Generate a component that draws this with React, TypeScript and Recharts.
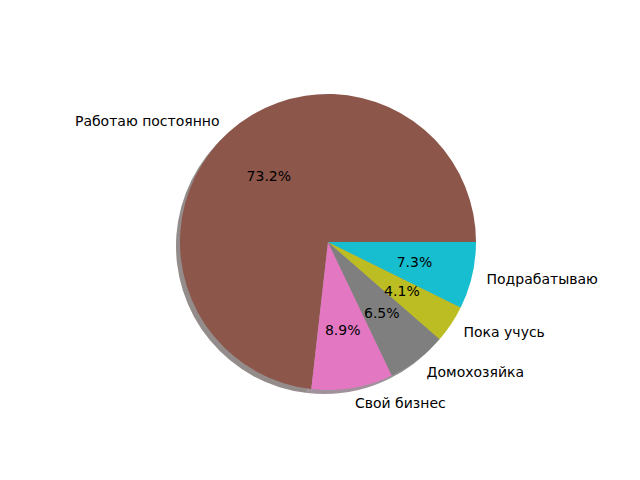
import React from "react";
import { PieChart, Pie, Cell } from "recharts";

const labels = ["Работаю постоянно", "Свой бизнес", "Домохозяйка", "Пока учусь", "Подрабатываю"];
const shares = [73.2, 8.9, 6.5, 4.1, 7.3];
const colors = ["#8c564b", "#e377c2", "#7f7f7f", "#bcbd22", "#17becf"];
const shadowColors = ["#2a1a16", "#44243a", "#262626", "#38380a", "#07393e"];

const data = labels.map((name, i) => ({ name, value: shares[i] }));

const RADIAN = Math.PI / 180;
const FONT = "DejaVu Sans, sans-serif";

const renderLabel = (props: any) => {
  const { cx, cy, midAngle, outerRadius, name, value } = props;
  const cos = Math.cos(-midAngle * RADIAN);
  const sin = Math.sin(-midAngle * RADIAN);
  const lx = cx + outerRadius * 1.1 * cos;
  const ly = cy + outerRadius * 1.1 * sin;
  const px = cx + outerRadius * 0.6 * cos;
  const py = cy + outerRadius * 0.6 * sin;
  return (
    <g>
      <text
        x={lx}
        y={ly}
        textAnchor={cos >= 0 ? "start" : "end"}
        dominantBaseline="central"
        fill="#000"
        fontSize={14}
        fontFamily={FONT}
      >
        {name}
      </text>
      <text
        x={px}
        y={py}
        textAnchor="middle"
        dominantBaseline="central"
        fill="#000"
        fontSize={14}
        fontFamily={FONT}
      >
        {value.toFixed(1)}%
      </text>
    </g>
  );
};

export default function App() {
  return (
    <div style={{ position: "absolute", left: 0, top: 0, width: 640, height: 480, background: "#fff" }}>
      <PieChart width={640} height={480} margin={{ top: 0, right: 0, bottom: 0, left: 0 }}>
        <Pie
          data={data}
          dataKey="value"
          cx={324}
          cy={246}
          outerRadius={148}
          startAngle={0}
          endAngle={360}
          stroke="none"
          isAnimationActive={false}
        >
          {data.map((d, i) => (
            <Cell key={d.name} fill={shadowColors[i]} fillOpacity={0.5} />
          ))}
        </Pie>
        <Pie
          data={data}
          dataKey="value"
          cx={328}
          cy={242}
          outerRadius={148}
          startAngle={0}
          endAngle={360}
          stroke="none"
          label={renderLabel}
          labelLine={false}
          isAnimationActive={false}
        >
          {data.map((d, i) => (
            <Cell key={d.name} fill={colors[i]} />
          ))}
        </Pie>
      </PieChart>
    </div>
  );
}
